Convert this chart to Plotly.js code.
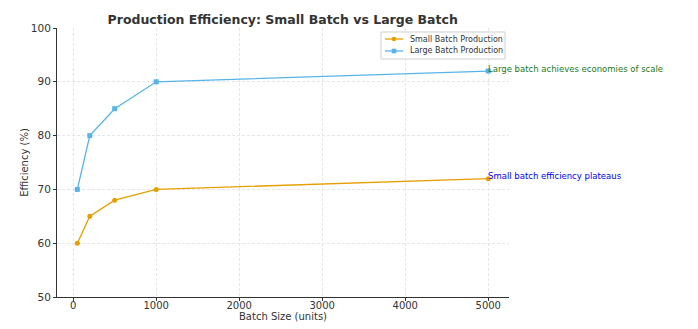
<!DOCTYPE html>
<html><head><meta charset="utf-8">
<script src="https://cdn.plot.ly/plotly-3.0.1.min.js"></script>
<style>html,body{margin:0;padding:0;background:#fff}#chart{width:698px;height:329px}</style>
</head><body><div id="chart"></div>
<script>
const batchSizes = [50, 200, 500, 1000, 5000];
const smallBatch = [60, 65, 68, 70, 72];
const largeBatch = [70, 80, 85, 90, 92];
const seriesNames = ["Small Batch Production", "Large Batch Production"];
const seriesColors = ["#E69F00", "#56B4E9"];
const noteLarge = "Large batch achieves economies of scale";
const noteSmall = "Small batch efficiency plateaus";

const W = 698, H = 329;
const M = {l: 57, r: 189, t: 28, b: 32};
const PW = W - M.l - M.r, PH = H - M.t - M.b;
const px = v => (v - M.l) / PW;          // pixel x -> paper x
const py = v => 1 - (v - M.t) / PH;      // pixel y -> paper y

const font = "DejaVu Sans, sans-serif";
const traces = [
  {x: batchSizes, y: smallBatch, name: seriesNames[0], mode: "lines+markers", showlegend: false,
   line: {color: seriesColors[0], width: 1.3}, marker: {symbol: "circle", size: 5, color: seriesColors[0]}},
  {x: batchSizes, y: largeBatch, name: seriesNames[1], mode: "lines+markers", showlegend: false,
   line: {color: seriesColors[1], width: 1.3}, marker: {symbol: "square", size: 5, color: seriesColors[1]}}
];

// manual compact legend (matplotlib style)
const shapes = [
  {type: "rect", xref: "paper", yref: "paper", x0: px(381), x1: px(505), y0: py(32), y1: py(59),
   line: {color: "#d0d0d0", width: 1}, fillcolor: "rgba(255,255,255,0.85)", layer: "above"}
];
const legAnn = [];
const rowY = [39, 51];
seriesNames.forEach((n, i) => {
  shapes.push({type: "line", xref: "paper", yref: "paper", x0: px(385), x1: px(403), y0: py(rowY[i]), y1: py(rowY[i]),
    line: {color: seriesColors[i], width: 1.3}, layer: "above"});
  const s = 2.3;
  shapes.push({type: i === 0 ? "circle" : "rect", xref: "paper", yref: "paper",
    x0: px(394 - s), x1: px(394 + s), y0: py(rowY[i] + s), y1: py(rowY[i] - s),
    line: {width: 0}, fillcolor: seriesColors[i], layer: "above"});
  legAnn.push({xref: "paper", yref: "paper", x: px(408), y: py(rowY[i]), text: n, showarrow: false,
    xanchor: "left", yanchor: "middle", font: {size: 8, color: "#333"}});
});

const layout = {
  width: W, height: H,
  margin: M,
  paper_bgcolor: "#fff", plot_bgcolor: "#fff",
  font: {family: font, size: 10, color: "#333"},
  title: {text: "<b>Production Efficiency: Small Batch vs Large Batch</b>", x: 0.405, xanchor: "center",
          yref: "container", y: 0.94, yanchor: "middle",
          font: {family: font, size: 12.5, color: "#333"}},
  xaxis: {range: [-195, 5250], tickvals: [0, 1000, 2000, 3000, 4000, 5000], ticks: "outside", ticklen: 3, tickcolor: "#333",
          ticklabelstandoff: -4,
          showgrid: true, gridcolor: "#e6e6e6", griddash: "3px,2px", gridwidth: 1, zeroline: false,
          showline: true, linecolor: "#333", linewidth: 1, mirror: false,
          title: {text: "Batch Size (units)", standoff: 0, font: {size: 10}}, tickfont: {size: 10}},
  yaxis: {range: [50, 100], dtick: 10, ticks: "outside", ticklen: 3, tickcolor: "#333",
          showgrid: true, gridcolor: "#e6e6e6", griddash: "3px,2px", gridwidth: 1, zeroline: false,
          showline: true, linecolor: "#333", linewidth: 1,
          title: {text: "Efficiency (%)", standoff: 0, font: {size: 10}}, tickfont: {size: 10.5}},
  showlegend: false,
  shapes: shapes,
  annotations: [
    {x: batchSizes[4], y: largeBatch[4], text: noteLarge, showarrow: false, xanchor: "left", yanchor: "middle",
     xshift: -2, yshift: 2, font: {size: 8.5, color: "#1a7a1a"}},
    {x: batchSizes[4], y: smallBatch[4], text: noteSmall, showarrow: false, xanchor: "left", yanchor: "middle",
     xshift: -2, yshift: 3, font: {size: 8.5, color: "#0000ff"}}
  ].concat(legAnn)
};
Plotly.newPlot("chart", traces, layout, {displayModeBar: false, staticPlot: true});
</script></body></html>
